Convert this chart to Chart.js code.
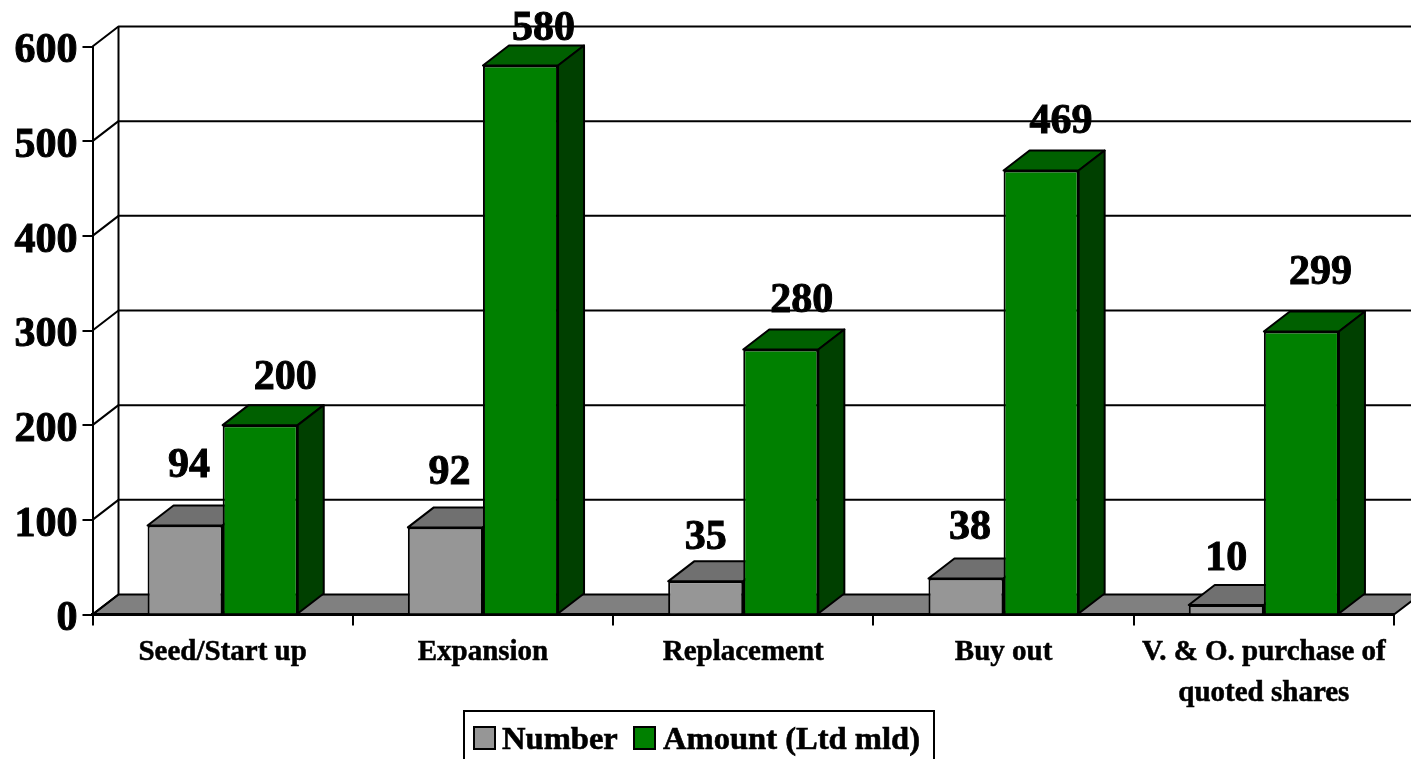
<!DOCTYPE html>
<html lang="en">

<head>
  <meta charset="UTF-8" />
  <title>Number and amount by stage</title>
  <script src="https://cdn.jsdelivr.net/npm/chart.js"></script>
  <style>
    html, body { margin: 0; background: #fff; overflow: hidden; }
    canvas { display: block; }
  </style>
</head>

<body>
  <canvas id="stageChart" width="1411" height="759"></canvas>

  <script>
    const categories = ['Seed/Start up', 'Expansion', 'Replacement', 'Buy out', ['V. & O. purchase of', 'quoted shares']];
    const seriesNames = ['Number', 'Amount (Ltd mld)'];
    const numberValues = [94, 92, 35, 38, 10];
    const amountValues = [200, 580, 280, 469, 299];
    const yTicks = [0, 100, 200, 300, 400, 500, 600];

    // the value labels were placed by hand in the original, so they get their own nudges
    const numberLabelNudge = [[4, -59], [4, -54], [0, -43], [4, -50], [0, -46]];
    const amountLabelNudge = [[25, -47], [23, -36], [21, -48], [20, -48], [19, -58]];

    const serif = 'Liberation Serif';
    const depthX = 26;
    const depthY = 20;
    const faces = [
      { front: '#969696', top: '#707070', side: '#4b4b4b' },
      { front: '#008000', top: '#006000', side: '#004000' }
    ];

    function poly(ctx, pts, fill) {
      ctx.beginPath();
      pts.forEach((p, i) => i ? ctx.lineTo(p[0], p[1]) : ctx.moveTo(p[0], p[1]));
      ctx.closePath();
      if (fill) {
        ctx.fillStyle = fill;
        ctx.fill();
      }
      ctx.stroke();
    }

    const walls = {
      id: 'walls',
      beforeDraw(chart) {
        const { ctx, scales: { x, y } } = chart;
        const left = x.left, right = x.right, bottom = y.getPixelForValue(0);
        ctx.save();
        ctx.strokeStyle = '#000';
        ctx.lineWidth = 2;
        ctx.lineJoin = 'round';
        poly(ctx, [[left, bottom], [left + depthX, bottom - depthY], [right + depthX, bottom - depthY], [right, bottom]], '#808080');
        yTicks.forEach(v => {
          const py = y.getPixelForValue(v);
          ctx.beginPath();
          ctx.moveTo(left, py);
          ctx.lineTo(left + depthX, py - depthY);
          if (v > 0) ctx.lineTo(right + depthX, py - depthY);
          ctx.stroke();
        });
        ctx.beginPath();
        ctx.moveTo(left + depthX, y.getPixelForValue(yTicks[yTicks.length - 1]) - depthY);
        ctx.lineTo(left + depthX, bottom - depthY);
        ctx.stroke();
        ctx.restore();
      }
    };

    const barDepth = {
      id: 'barDepth',
      beforeDatasetsDraw(chart) {
        const ctx = chart.ctx;
        ctx.save();
        ctx.strokeStyle = '#000';
        ctx.lineWidth = 2;
        ctx.lineJoin = 'round';
        chart.data.datasets.forEach((ds, d) => {
          chart.getDatasetMeta(d).data.forEach(bar => {
            const l = bar.x - bar.width / 2, r = bar.x + bar.width / 2;
            poly(ctx, [[l, bar.y], [l + depthX, bar.y - depthY], [r + depthX, bar.y - depthY], [r, bar.y]], faces[d].top);
            poly(ctx, [[r, bar.y], [r + depthX, bar.y - depthY], [r + depthX, bar.base - depthY], [r, bar.base]], faces[d].side);
          });
        });
        ctx.restore();
      }
    };

    const valueLabels = {
      id: 'valueLabels',
      afterDatasetsDraw(chart) {
        const ctx = chart.ctx;
        const nudges = [numberLabelNudge, amountLabelNudge];
        ctx.save();
        ctx.font = `bold 42px "${serif}"`;
        ctx.fillStyle = '#000';
        ctx.strokeStyle = '#000';
        ctx.lineWidth = 1;
        ctx.textAlign = 'center';
        ctx.textBaseline = 'middle';
        chart.data.datasets.forEach((ds, d) => {
          chart.getDatasetMeta(d).data.forEach((bar, i) => {
            const tx = bar.x + nudges[d][i][0], ty = bar.y + nudges[d][i][1];
            ctx.strokeText(ds.data[i], tx, ty);
            ctx.fillText(ds.data[i], tx, ty);
          });
        });
        ctx.restore();
      }
    };

    const boxedLegend = {
      id: 'boxedLegend',
      afterDraw(chart) {
        const ctx = chart.ctx;
        const slots = [{ box: 474, text: 502 }, { box: 634, text: 663 }];
        ctx.save();
        ctx.strokeStyle = '#000';
        ctx.lineWidth = 2;
        ctx.strokeRect(464, 711, 470, 60);
        ctx.font = `bold 32.6px "${serif}"`;
        ctx.textBaseline = 'alphabetic';
        chart.data.datasets.forEach((ds, d) => {
          ctx.lineWidth = 2;
          ctx.fillStyle = ds.backgroundColor;
          ctx.fillRect(slots[d].box, 727, 21, 22);
          ctx.strokeRect(slots[d].box, 727, 21, 22);
          ctx.fillStyle = '#000';
          ctx.lineWidth = 0.6;
          ctx.strokeText(ds.label, slots[d].text, 749);
          ctx.fillText(ds.label, slots[d].text, 749);
        });
        ctx.restore();
      }
    };

    new Chart(document.getElementById('stageChart'), {
      type: 'bar',
      data: {
        labels: categories,
        datasets: [
          { label: seriesNames[0], data: numberValues, backgroundColor: faces[0].front, borderColor: '#000', borderWidth: 2 },
          { label: seriesNames[1], data: amountValues, backgroundColor: faces[1].front, borderColor: '#000', borderWidth: 2 }
        ]
      },
      options: {
        responsive: false,
        animation: false,
        layout: { padding: { top: 46.5, right: 17 } },
        categoryPercentage: 0.577,
        barPercentage: 1,
        plugins: {
          legend: { display: false },
          tooltip: { enabled: false }
        },
        scales: {
          x: {
            afterFit(scale) { scale.height = 144.5; },
            grid: { offset: true, drawOnChartArea: false, color: '#000', tickLength: 11, lineWidth: 2 },
            border: { color: '#000', width: 3 },
            ticks: {
              color: '#000',
              padding: 7,
              maxRotation: 0,
              autoSkip: false,
              textStrokeColor: '#000',
              textStrokeWidth: 0.5,
              font: { family: serif, size: 29, weight: 'bold', lineHeight: 1.41 }
            }
          },
          y: {
            min: yTicks[0],
            max: yTicks[yTicks.length - 1],
            afterFit(scale) { scale.width = 92.5; },
            afterBuildTicks(scale) { scale.ticks = yTicks.map(v => ({ value: v })); },
            grid: { drawOnChartArea: false, color: '#000', tickLength: 10, lineWidth: 2 },
            border: { color: '#000', width: 2 },
            ticks: {
              color: '#000',
              padding: 5,
              labelOffset: 5,
              textStrokeColor: '#000',
              textStrokeWidth: 1,
              font: { family: serif, size: 42, weight: 'bold' }
            }
          }
        }
      },
      plugins: [walls, barDepth, valueLabels, boxedLegend]
    });
  </script>
</body>

</html>
